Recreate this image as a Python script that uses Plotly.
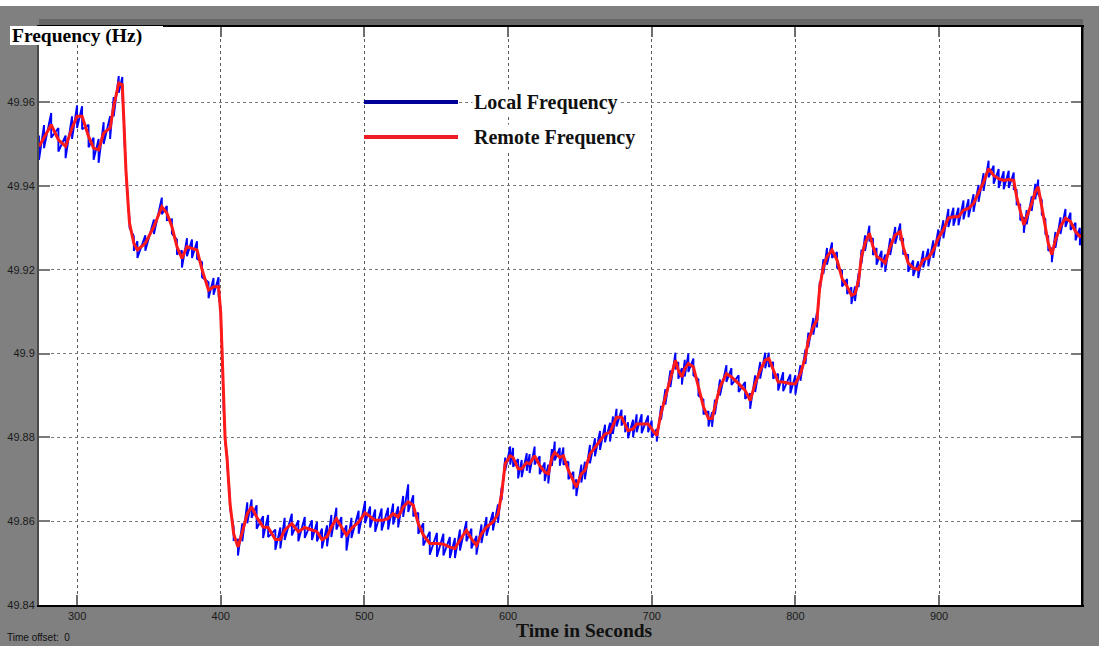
import numpy as np
import plotly.graph_objects as go

# Sample times (s) shared by both measurements
sample_t = [
    273.5, 277, 282, 287, 292, 296.5, 300, 303.5, 308, 311.5, 315, 318.5, 323, 325.5, 329, 331.5,
    333, 334, 335.5, 336.5, 339.5, 342, 347.5, 353.5, 359, 362.5, 366, 369.5, 373, 376.5, 380, 383.5,
    387, 391.5, 395, 398.5, 400, 401, 402, 403, 404.5, 406.5, 409, 412, 415, 418.5, 421.5, 425,
    429.5, 433, 438, 441.5, 444.5, 449.5, 454, 458.5, 463.5, 467, 470.5, 474, 477, 480.5, 484, 487.5,
    491, 496, 500.5, 504, 507.5, 512, 516.5, 520, 523.5, 527, 530.5, 534, 537.5, 541, 545.5, 550.5,
    555, 559.5, 563, 566.5, 571, 574.5, 578, 581.5, 585, 589.5, 593, 595.5, 598, 601.5, 603.5, 607,
    609.5, 613, 615, 618.5, 622, 625.5, 628, 630.5, 632.5, 636, 638.5, 642, 645.5, 647.5, 651, 653.5,
    657, 660.5, 664, 667.5, 671, 673, 675.5, 679, 681.5, 683.5, 687, 689.5, 693, 697.5, 700, 703.5,
    706.5, 709.5, 713, 716.5, 718.5, 721, 723, 725.5, 729, 732.5, 736, 739.5, 742, 744, 747.5, 752,
    755.5, 760.5, 765, 768.5, 772, 775.5, 779, 781.5, 784.5, 788, 791.5, 796.5, 800, 803.5, 807, 809,
    812.5, 815, 817, 819.5, 822, 825.5, 829, 832.5, 836, 839, 841.5, 844, 846, 848.5, 851.5, 854,
    856.5, 860, 862.5, 866, 869.5, 873, 875, 878.5, 882, 885.5, 889, 892.5, 896, 899.5, 903, 906.5,
    910, 913.5, 917, 920.5, 924, 927.5, 931, 934.5, 938, 941.5, 945, 948.5, 952, 954, 956.5, 959,
    961, 964.5, 967, 969, 971.5, 974, 976, 978.5, 981, 984.5, 988, 991.5, 995, 998, 1000,
]

# Remote frequency (Hz)
remote_freq = [
    49.9494, 49.9514, 49.9546, 49.9510, 49.9494, 49.9538, 49.9566, 49.9566, 49.9518, 49.9490, 49.9486, 49.9526, 49.9538, 49.9590, 49.9645, 49.9641,
    49.9518, 49.9438, 49.9359, 49.9311, 49.9263, 49.9247, 49.9263, 49.9303, 49.9350, 49.9335, 49.9303, 49.9255, 49.9227, 49.9255, 49.9251, 49.9247,
    49.9200, 49.9151, 49.9159, 49.9159, 49.9096, 49.9000, 49.8880, 49.8800, 49.8745, 49.8641, 49.8570, 49.8538, 49.8574, 49.8618, 49.8634, 49.8610,
    49.8586, 49.8585, 49.8556, 49.8556, 49.8579, 49.8594, 49.8575, 49.8585, 49.8579, 49.8575, 49.8556, 49.8563, 49.8586, 49.8606, 49.8586, 49.8567,
    49.8583, 49.8598, 49.8620, 49.8610, 49.8602, 49.8602, 49.8606, 49.8618, 49.8610, 49.8634, 49.8646, 49.8638, 49.8594, 49.8567, 49.8547, 49.8547,
    49.8545, 49.8538, 49.8535, 49.8555, 49.8578, 49.8558, 49.8542, 49.8570, 49.8586, 49.8598, 49.8617, 49.8665, 49.8737, 49.8756, 49.8752, 49.8725,
    49.8725, 49.8740, 49.8737, 49.8756, 49.8733, 49.8717, 49.8713, 49.8752, 49.8764, 49.8752, 49.8756, 49.8721, 49.8697, 49.8681, 49.8713, 49.8721,
    49.8760, 49.8776, 49.8792, 49.8808, 49.8812, 49.8828, 49.8848, 49.8848, 49.8832, 49.8816, 49.8820, 49.8832, 49.8832, 49.8832, 49.8820, 49.8804,
    49.8858, 49.8896, 49.8940, 49.8984, 49.8960, 49.8944, 49.8964, 49.8976, 49.8968, 49.8920, 49.8873, 49.8845, 49.8845, 49.8873, 49.8920, 49.8952,
    49.8944, 49.8928, 49.8912, 49.8888, 49.8928, 49.8960, 49.8984, 49.8988, 49.8960, 49.8932, 49.8932, 49.8928, 49.8928, 49.8952, 49.8992, 49.9032,
    49.9064, 49.9080, 49.9160, 49.9207, 49.9231, 49.9247, 49.9223, 49.9179, 49.9160, 49.9139, 49.9143, 49.9175, 49.9231, 49.9263, 49.9287, 49.9255,
    49.9232, 49.9224, 49.9216, 49.9255, 49.9283, 49.9291, 49.9255, 49.9216, 49.9204, 49.9200, 49.9224, 49.9228, 49.9247, 49.9275, 49.9295, 49.9323,
    49.9326, 49.9326, 49.9342, 49.9346, 49.9358, 49.9382, 49.9409, 49.9441, 49.9425, 49.9417, 49.9413, 49.9415, 49.9413, 49.9374, 49.9338, 49.9307,
    49.9326, 49.9358, 49.9386, 49.9398, 49.9350, 49.9303, 49.9263, 49.9236, 49.9271, 49.9303, 49.9323, 49.9315, 49.9291, 49.9279, 49.9283,
]

# Local frequency (Hz): upper and lower extent of the jitter at each sample
local_hi = [
    49.9520, 49.9545, 49.9574, 49.9538, 49.9520, 49.9566, 49.9592, 49.9590, 49.9546, 49.9515, 49.9512, 49.9552, 49.9566, 49.9612, 49.9662, 49.9660,
    49.9530, 49.9448, 49.9368, 49.9322, 49.9280, 49.9268, 49.9282, 49.9320, 49.9372, 49.9352, 49.9320, 49.9272, 49.9246, 49.9275, 49.9272, 49.9268,
    49.9218, 49.9170, 49.9180, 49.9182, 49.9108, 49.9010, 49.8890, 49.8810, 49.8755, 49.8652, 49.8585, 49.8556, 49.8595, 49.8645, 49.8652, 49.8638,
    49.8612, 49.8615, 49.8580, 49.8585, 49.8608, 49.8618, 49.8602, 49.8610, 49.8602, 49.8598, 49.8582, 49.8590, 49.8615, 49.8632, 49.8610, 49.8590,
    49.8608, 49.8625, 49.8648, 49.8635, 49.8628, 49.8630, 49.8632, 49.8642, 49.8635, 49.8660, 49.8688, 49.8662, 49.8620, 49.8595, 49.8575, 49.8572,
    49.8570, 49.8562, 49.8560, 49.8580, 49.8600, 49.8582, 49.8565, 49.8592, 49.8610, 49.8622, 49.8640, 49.8680, 49.8752, 49.8778, 49.8775, 49.8748,
    49.8746, 49.8762, 49.8760, 49.8778, 49.8755, 49.8740, 49.8735, 49.8772, 49.8790, 49.8775, 49.8776, 49.8742, 49.8718, 49.8700, 49.8735, 49.8742,
    49.8782, 49.8798, 49.8815, 49.8830, 49.8835, 49.8850, 49.8868, 49.8866, 49.8852, 49.8836, 49.8842, 49.8855, 49.8855, 49.8852, 49.8840, 49.8820,
    49.8875, 49.8915, 49.8960, 49.9002, 49.8980, 49.8965, 49.8985, 49.9000, 49.8988, 49.8938, 49.8890, 49.8862, 49.8860, 49.8890, 49.8938, 49.8972,
    49.8965, 49.8948, 49.8932, 49.8905, 49.8948, 49.8980, 49.9002, 49.9002, 49.8980, 49.8952, 49.8955, 49.8950, 49.8948, 49.8972, 49.9010, 49.9050,
    49.9085, 49.9098, 49.9172, 49.9225, 49.9252, 49.9265, 49.9242, 49.9198, 49.9178, 49.9158, 49.9160, 49.9192, 49.9248, 49.9282, 49.9305, 49.9275,
    49.9252, 49.9245, 49.9236, 49.9275, 49.9302, 49.9310, 49.9275, 49.9235, 49.9222, 49.9220, 49.9245, 49.9250, 49.9270, 49.9296, 49.9318, 49.9345,
    49.9348, 49.9348, 49.9365, 49.9368, 49.9380, 49.9402, 49.9430, 49.9460, 49.9448, 49.9440, 49.9435, 49.9436, 49.9432, 49.9390, 49.9355, 49.9325,
    49.9342, 49.9375, 49.9405, 49.9415, 49.9366, 49.9320, 49.9280, 49.9252, 49.9290, 49.9325, 49.9345, 49.9336, 49.9312, 49.9300, 49.9300,
]
local_lo = [
    49.9462, 49.9490, 49.9515, 49.9482, 49.9466, 49.9512, 49.9538, 49.9535, 49.9492, 49.9462, 49.9455, 49.9500, 49.9512, 49.9566, 49.9622, 49.9620,
    49.9505, 49.9428, 49.9350, 49.9300, 49.9245, 49.9228, 49.9245, 49.9285, 49.9332, 49.9318, 49.9286, 49.9236, 49.9205, 49.9232, 49.9228, 49.9226,
    49.9182, 49.9132, 49.9140, 49.9138, 49.9085, 49.8990, 49.8870, 49.8790, 49.8735, 49.8630, 49.8555, 49.8518, 49.8552, 49.8595, 49.8608, 49.8582,
    49.8560, 49.8562, 49.8532, 49.8535, 49.8555, 49.8566, 49.8552, 49.8560, 49.8555, 49.8552, 49.8535, 49.8540, 49.8562, 49.8580, 49.8560, 49.8530,
    49.8560, 49.8570, 49.8595, 49.8585, 49.8575, 49.8578, 49.8580, 49.8592, 49.8585, 49.8610, 49.8622, 49.8612, 49.8570, 49.8542, 49.8520, 49.8515,
    49.8518, 49.8512, 49.8512, 49.8530, 49.8552, 49.8535, 49.8520, 49.8548, 49.8565, 49.8578, 49.8596, 49.8650, 49.8720, 49.8735, 49.8730, 49.8702,
    49.8705, 49.8720, 49.8715, 49.8735, 49.8712, 49.8696, 49.8690, 49.8732, 49.8745, 49.8732, 49.8735, 49.8700, 49.8676, 49.8660, 49.8692, 49.8700,
    49.8738, 49.8755, 49.8770, 49.8788, 49.8790, 49.8808, 49.8826, 49.8828, 49.8812, 49.8798, 49.8800, 49.8812, 49.8810, 49.8812, 49.8800, 49.8790,
    49.8842, 49.8878, 49.8920, 49.8962, 49.8940, 49.8926, 49.8945, 49.8956, 49.8948, 49.8900, 49.8855, 49.8826, 49.8825, 49.8855, 49.8900, 49.8932,
    49.8925, 49.8908, 49.8892, 49.8868, 49.8908, 49.8940, 49.8965, 49.8968, 49.8940, 49.8912, 49.8910, 49.8905, 49.8902, 49.8935, 49.8975, 49.9015,
    49.9045, 49.9062, 49.9148, 49.9190, 49.9212, 49.9228, 49.9205, 49.9160, 49.9142, 49.9118, 49.9125, 49.9158, 49.9215, 49.9245, 49.9268, 49.9235,
    49.9212, 49.9205, 49.9195, 49.9235, 49.9262, 49.9270, 49.9238, 49.9195, 49.9185, 49.9180, 49.9205, 49.9208, 49.9228, 49.9255, 49.9275, 49.9302,
    49.9305, 49.9306, 49.9320, 49.9325, 49.9338, 49.9362, 49.9388, 49.9420, 49.9405, 49.9395, 49.9392, 49.9395, 49.9392, 49.9356, 49.9318, 49.9288,
    49.9308, 49.9340, 49.9368, 49.9380, 49.9332, 49.9285, 49.9245, 49.9218, 49.9252, 49.9285, 49.9302, 49.9295, 49.9270, 49.9258, 49.9262,
]

x_tickvals = [300, 400, 500, 600, 700, 800, 900]
x_ticktext = ["300", "400", "500", "600", "700", "800", "900"]
y_tickvals = [49.84, 49.86, 49.88, 49.90, 49.92, 49.94, 49.96]
y_ticktext = ["49.84", "49.86", "49.88", "49.9", "49.92", "49.94", "49.96"]

series_names = ["Local Frequency", "Remote Frequency"]

# The local trace sweeps top-to-bottom of its jitter at every sample
local_x = np.repeat(np.asarray(sample_t), 2)
local_y = np.column_stack([local_hi, local_lo]).ravel()

W, H = 1099, 646
ML, MR, MT, MB = 39, 17, 27, 41
PW, PH = W - ML - MR, H - MT - MB


def px(x):
    return (x - ML) / PW


def py(y):
    return (H - MB - y) / PH


fig = go.Figure()
fig.add_trace(go.Scatter(x=local_x, y=local_y, mode="lines", name=series_names[0],
                         line=dict(color="#0000ff", width=1.9), showlegend=False,
                         hoverinfo="skip"))
fig.add_trace(go.Scatter(x=sample_t, y=remote_freq, mode="lines", name=series_names[1],
                         line=dict(color="#ff1a1a", width=3), showlegend=False))

serif = "Liberation Serif"
sans = "Liberation Sans"

shapes = [
    # grey window frame below the white top strip
    dict(type="rect", xref="paper", yref="paper", x0=px(0), x1=px(W), y0=py(H), y1=py(6),
         fillcolor="#808080", line=dict(width=0), layer="below"),
    # darker band along the top of the axes
    dict(type="rect", xref="paper", yref="paper", x0=px(ML), x1=px(W - MR + 1), y0=py(27), y1=py(19),
         fillcolor="#676767", line=dict(width=0), layer="below"),
    # white plotting area
    dict(type="rect", xref="paper", yref="paper", x0=0, x1=1, y0=0, y1=1,
         fillcolor="white", line=dict(width=0), layer="below"),
    # right border
    dict(type="line", xref="paper", yref="paper", x0=1, x1=1, y0=0, y1=1,
         line=dict(color="black", width=2)),
    # label box for the y quantity
    dict(type="rect", xref="paper", yref="paper", x0=px(10), x1=px(163), y0=py(45), y1=py(26),
         fillcolor="white", line=dict(width=0), layer="above"),
    # legend samples
    dict(type="line", xref="paper", yref="paper", x0=px(364), x1=px(458), y0=py(102), y1=py(102),
         line=dict(color="#000099", width=4)),
    dict(type="line", xref="paper", yref="paper", x0=px(364), x1=px(458), y0=py(137), y1=py(137),
         line=dict(color="#ee1c24", width=4)),
]

annotations = [
    dict(text="<b>Frequency (Hz)</b>", xref="paper", yref="paper", x=px(10), y=py(36),
         xanchor="left", yanchor="middle", showarrow=False,
         font=dict(family=serif, size=19.5, color="black")),
    dict(text="<b>" + series_names[0] + "</b>", xref="paper", yref="paper", x=px(472), y=py(102),
         xanchor="left", yanchor="middle", showarrow=False, bgcolor="white",
         font=dict(family=serif, size=20, color="#111111")),
    dict(text="<b>" + series_names[1] + "</b>", xref="paper", yref="paper", x=px(472), y=py(137),
         xanchor="left", yanchor="middle", showarrow=False, bgcolor="white",
         font=dict(family=serif, size=20, color="#111111")),
    dict(text="<b>Time in Seconds</b>", xref="paper", yref="paper", x=px(584), y=py(630),
         xanchor="center", yanchor="middle", showarrow=False,
         font=dict(family=serif, size=19.5, color="#111111")),
    dict(text="Time offset:&nbsp;&nbsp;0", xref="paper", yref="paper", x=px(5), y=py(637),
         xanchor="left", yanchor="middle", showarrow=False,
         font=dict(family=sans, size=10, color="#111111")),
]

fig.update_layout(
    width=W, height=H,
    margin=dict(l=ML, r=MR, t=MT, b=MB, pad=0, autoexpand=False),
    paper_bgcolor="white",
    plot_bgcolor="rgba(0,0,0,0)",
    shapes=shapes,
    annotations=annotations,
    showlegend=False,
    xaxis=dict(
        range=[273.5, 999.5], tickvals=x_tickvals, ticktext=x_ticktext, automargin=False,
        showgrid=True, gridcolor="#5a5a5a", griddash="dot", gridwidth=1,
        zeroline=False, showline=True, linecolor="black", linewidth=2, mirror="ticks",
        ticks="inside", ticklen=10, tickwidth=2, tickcolor="#6e6e6e",
        tickfont=dict(family=sans, size=11, color="#1a1a1a"),
    ),
    yaxis=dict(
        range=[49.84, 49.9779], tickvals=y_tickvals, ticktext=y_ticktext, automargin=False,
        showgrid=True, gridcolor="#7a7a7a", griddash="dot", gridwidth=1,
        zeroline=False, showline=True, linecolor="#4a4a4a", linewidth=2, mirror="ticks",
        ticks="inside", ticklen=11, tickwidth=2, tickcolor="#7a7a7a",
        tickfont=dict(family=sans, size=11, color="#1a1a1a"),
    ),
)

fig.write_html("out.html")
